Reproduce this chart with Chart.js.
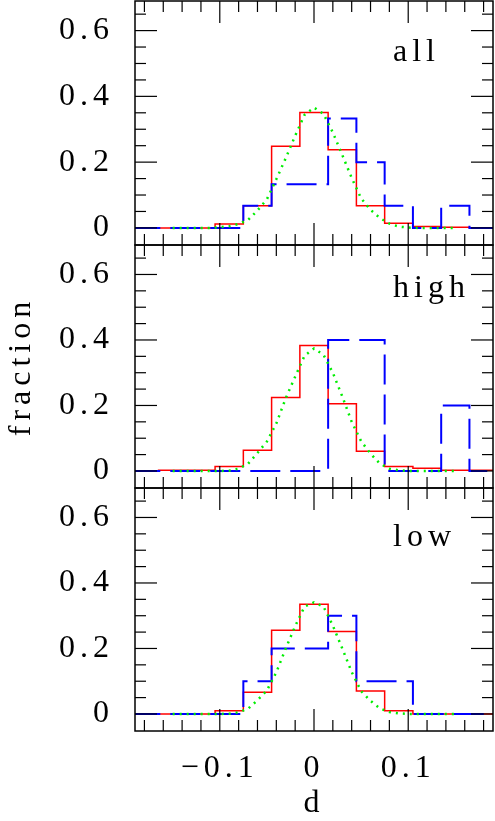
<!DOCTYPE html>
<html>
<head>
<meta charset="utf-8">
<script src="https://cdn.jsdelivr.net/npm/chart.js@4.4.1/dist/chart.umd.min.js"></script>
<style>
  body { margin: 0; background: #fff; }
  #wrap { position: relative; width: 495px; height: 821px; }
  canvas { position: absolute; left: 0; }
</style>
</head>
<body>
<div id="wrap">
  <canvas id="c1" width="495" height="246" style="top:0px"></canvas>
  <canvas id="c2" width="495" height="245" style="top:244px"></canvas>
  <canvas id="c3" width="495" height="334" style="top:487px"></canvas>
</div>
<script>
// histogram bins (left edges, last entry closes the final bin)
var binEdges = [-0.195, -0.165, -0.135, -0.105, -0.075, -0.045, -0.015, 0.015, 0.045, 0.075, 0.105, 0.135, 0.165, 0.195];

var allRed   = [0, 0, 0, 0.012, 0.067, 0.248, 0.351, 0.238, 0.067, 0.014, 0.004, 0.002, 0];
var allBlue  = [0, 0, 0, 0, 0.067, 0.133, 0.133, 0.333, 0.200, 0.067, 0, 0.067, 0];
var highRed  = [0, 0.002, 0.002, 0.014, 0.063, 0.224, 0.383, 0.205, 0.060, 0.014, 0.008, 0.002, 0.002];
var highBlue = [0, 0, 0, 0, 0, 0, 0, 0.4, 0.4, 0, 0, 0.2, 0];
var lowRed   = [0, 0, 0, 0.010, 0.066, 0.256, 0.335, 0.252, 0.070, 0.010, 0, 0, 0];
var lowBlue  = [0, 0, 0, 0, 0.1, 0.2, 0.2, 0.3, 0.1, 0.1, 0, 0, 0];

// dotted curve samples
var curveX = [-0.15, -0.14, -0.13, -0.12, -0.11, -0.10, -0.09, -0.08, -0.07, -0.06, -0.05, -0.04, -0.03, -0.02, -0.01, 0,
              0.01, 0.02, 0.03, 0.04, 0.05, 0.06, 0.07, 0.08, 0.09, 0.10, 0.11, 0.12, 0.13, 0.14, 0.15];
var allGreen  = [0, 0, 0, 0, 0, 0.002, 0.005, 0.012, 0.024, 0.053, 0.087, 0.148, 0.212, 0.280, 0.344, 0.366,
                 0.347, 0.290, 0.222, 0.152, 0.090, 0.055, 0.030, 0.013, 0.004, 0.001, 0, 0, 0, 0, 0];
var highGreen = [0, 0, 0, 0, 0, 0, 0.001, 0.007, 0.022, 0.055, 0.090, 0.145, 0.222, 0.288, 0.352, 0.374,
                 0.355, 0.300, 0.228, 0.150, 0.091, 0.053, 0.022, 0.007, 0.002, 0, 0, 0, 0, 0, 0];
var lowGreen  = [0, 0, 0, 0, 0, 0, 0.001, 0.005, 0.016, 0.042, 0.072, 0.127, 0.200, 0.268, 0.328, 0.341,
                 0.328, 0.270, 0.200, 0.128, 0.070, 0.040, 0.017, 0.006, 0.002, 0, 0, 0, 0, 0, 0];

var panelNames = ['all', 'high', 'low'];

var xMajor = [-0.1, 0, 0.1];
var xMinor = [-0.18, -0.16, -0.14, -0.12, -0.08, -0.06, -0.04, -0.02, 0.02, 0.04, 0.06, 0.08, 0.12, 0.14, 0.16, 0.18];
var yMajor = [0, 0.2, 0.4, 0.6];
var yMinor = [0.05, 0.1, 0.15, 0.25, 0.3, 0.35, 0.45, 0.5, 0.55, 0.65];

Chart.defaults.font.family = '"Liberation Serif"';
Chart.defaults.font.size = 32;
Chart.defaults.color = '#000';

function steps(vals) {
  return binEdges.map(function (e, i) { return { x: e, y: vals[Math.min(i, vals.length - 1)] }; });
}
function curve(vals) {
  return curveX.map(function (x, i) { return { x: x, y: vals[i] }; });
}
function line(ctx, x1, y1, x2, y2) {
  ctx.beginPath(); ctx.moveTo(x1, y1); ctx.lineTo(x2, y2); ctx.stroke();
}
function noPad(s) {
  s.paddingTop = 0; s.paddingBottom = 0; s.paddingLeft = 0; s.paddingRight = 0;
}

var spacing = {
  id: 'spacing',
  beforeUpdate: function (chart) { chart.ctx.letterSpacing = '5px'; },
  beforeDraw: function (chart) { chart.ctx.letterSpacing = '5px'; }
};

// box with inward ticks on all four sides + panel name
var frame = {
  id: 'frame',
  afterDatasetsDraw: function (chart, args, o) {
    var a = chart.chartArea, ctx = chart.ctx, sx = chart.scales.x, sy = chart.scales.y;
    ctx.save();
    ctx.strokeStyle = '#000';
    ctx.lineWidth = 1.2;
    xMinor.forEach(function (v) {
      var p = sx.getPixelForValue(v);
      line(ctx, p, a.top, p, a.top + 11); line(ctx, p, a.bottom, p, a.bottom - 11);
    });
    xMajor.forEach(function (v) {
      var p = sx.getPixelForValue(v);
      line(ctx, p, a.top, p, a.top + 22); line(ctx, p, a.bottom, p, a.bottom - 22);
    });
    yMinor.forEach(function (v) {
      var p = sy.getPixelForValue(v);
      line(ctx, a.left, p, a.left + 11, p); line(ctx, a.right, p, a.right - 11, p);
    });
    yMajor.forEach(function (v) {
      var p = sy.getPixelForValue(v);
      line(ctx, a.left, p, a.left + 22, p); line(ctx, a.right, p, a.right - 22, p);
    });
    ctx.lineWidth = 1.5;
    ctx.strokeRect(a.left, a.top, a.right - a.left, a.bottom - a.top);
    ctx.font = '32px "Liberation Serif"';
    ctx.fillStyle = '#000';
    ctx.textAlign = 'left';
    ctx.textBaseline = 'alphabetic';
    ctx.fillText(o.name, a.right - 100, a.top + o.base);
    ctx.restore();
  }
};

function makePanel(id, idx, red, blue, green, bottom, yTitle, base) {
  return new Chart(document.getElementById(id), {
    type: 'line',
    data: {
      datasets: [
        { data: curve(green), borderColor: '#00ee00', borderWidth: 2.5, borderDash: [2, 5], pointRadius: 0 },
        { data: steps(blue), borderColor: '#0000ff', borderWidth: 2, borderDash: [30, 10], stepped: 'before', pointRadius: 0 },
        { data: steps(red), borderColor: '#ff0000', borderWidth: 1.5, stepped: 'before', pointRadius: 0 }
      ]
    },
    options: {
      responsive: false,
      animation: false,
      layout: { padding: { top: 1, bottom: bottom ? 0 : 1, left: 0, right: 2 } },
      plugins: {
        legend: { display: false },
        tooltip: { enabled: false },
        frame: { name: panelNames[idx], base: base }
      },
      scales: {
        x: {
          type: 'linear',
          min: -0.19, max: 0.19,
          display: bottom,
          grid: { display: false },
          border: { display: false },
          afterBuildTicks: function (s) { s.ticks = xMajor.map(function (v) { return { value: v }; }); },
          afterFit: function (s) { noPad(s); if (bottom) s.height = 90; },
          ticks: {
            padding: 10, maxRotation: 0, autoSkip: false,
            callback: function (v) { return v < 0 ? '\u2212' + Math.abs(v) : String(v); }
          },
          title: { display: bottom, text: 'd', font: { size: 32, lineHeight: 1 }, padding: { top: 0, bottom: 1 } }
        },
        y: {
          min: -0.052, max: 0.69,
          grid: { display: false },
          border: { display: false },
          afterBuildTicks: function (s) { s.ticks = yMajor.map(function (v) { return { value: v }; }); },
          afterFit: function (s) { noPad(s); s.width = 135; },
          ticks: {
            padding: 13, autoSkip: false,
            callback: function (v) { return v === 0 ? '0' : v.toFixed(1); }
          },
          title: { display: yTitle, text: 'fraction', font: { size: 32, lineHeight: 1 }, padding: { top: 6, bottom: 0 } }
        }
      }
    },
    plugins: [spacing, frame]
  });
}

makePanel('c1', 0, allRed, allBlue, allGreen, false, false, 60);
makePanel('c2', 1, highRed, highBlue, highGreen, false, true, 52);
makePanel('c3', 2, lowRed, lowBlue, lowGreen, true, false, 58);
</script>
</body>
</html>
